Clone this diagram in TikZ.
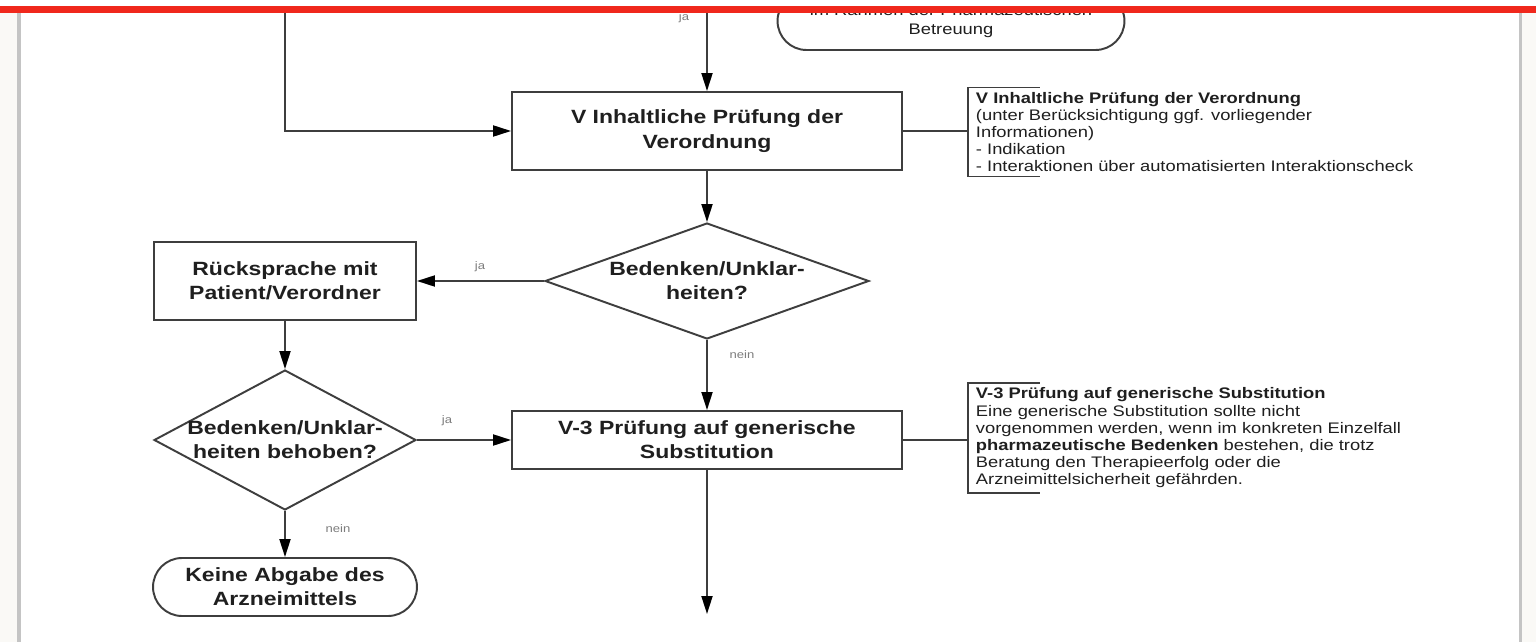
\documentclass[tikz,border=0pt]{standalone}
\usepackage{fontspec}
\setmainfont{Liberation Sans}[FakeStretch=1.2]
\usetikzlibrary{arrows.meta, shapes.geometric, shapes.misc}
\definecolor{linegray}{RGB}{62,62,62}
\definecolor{labelgray}{RGB}{125,125,125}
\definecolor{bordergray}{RGB}{196,196,196}
\definecolor{offwhite}{RGB}{250,249,246}
\definecolor{topred}{RGB}{240,40,28}

\begin{document}
\begin{tikzpicture}[x=0.02cm, y=-0.02cm, line width=1.1pt,
  >={Triangle[length=0.36cm, width=0.22cm, color=black]},
  flow/.style={draw=linegray, text=black!88, align=center, inner sep=0pt, font=\fontsize{10.9}{13.8}\selectfont\bfseries},
  process/.style={flow, rectangle},
  decision/.style={flow, diamond, inner sep=-0.1cm},
  terminal/.style={flow, rounded rectangle},
  note/.style={text=black!88, align=left, anchor=west, inner xsep=0.14cm, inner ysep=0.07cm, font=\fontsize{8.7}{9.8}\selectfont},
  yesno/.style={text=labelgray, inner sep=0pt, font=\fontsize{6.2}{7}\selectfont},
  link/.style={draw=linegray, ->},
  tie/.style={draw=linegray}]
\useasboundingbox (0,0) rectangle (1536,642);
\fill [white] (0,0) rectangle (1536,642);
\fill [offwhite] (0,13) rectangle (17,642);
\fill [offwhite] (1522,13) rectangle (1536,642);
\coordinate (Loop) at (285,13);
\coordinate (Top) at (707,13);
\coordinate (End) at (707,614);
\node at (951,21) [name=betreuung, terminal, minimum width=6.94cm, minimum height=1.16cm, font=\fontsize{8.7}{10.8}\selectfont] {im Rahmen der Pharmazeutischen\\Betreuung};
\node at (707,131) [name=pruefung, process, minimum width=7.8cm, minimum height=1.56cm] {V Inhaltliche Prüfung der\\Verordnung};
\node at (968,132) [name=notepruefung, note] {\textbf{V Inhaltliche Prüfung der Verordnung}\\(unter Berücksichtigung ggf. vorliegender\\Informationen)\\- Indikation\\- Interaktionen über automatisierten Interaktionscheck};
\node at (707,281) [name=unklar, decision, aspect=2.8, minimum width=6.48cm, minimum height=2.32cm] {Bedenken/Unklar-\\heiten?};
\node at (285,281) [name=ruecksprache, process, minimum width=5.24cm, minimum height=1.56cm] {Rücksprache mit\\Patient/Verordner};
\node at (285,440) [name=behoben, decision, aspect=1.87, minimum width=5.24cm, minimum height=2.8cm] {Bedenken/Unklar-\\heiten behoben?};
\node at (707,440) [name=generik, process, minimum width=7.8cm, minimum height=1.16cm] {V-3 Prüfung auf generische\\Substitution};
\node at (968,438) [name=notegenerik, note] {\textbf{V-3 Prüfung auf generische Substitution}\\Eine generische Substitution sollte nicht\\vorgenommen werden, wenn im konkreten Einzelfall\\\textbf{pharmazeutische Bedenken} bestehen, die trotz\\Beratung den Therapieerfolg oder die\\Arzneimittelsicherheit gefährden.};
\node at (285,587) [name=keineabgabe, terminal, minimum width=5.28cm, minimum height=1.16cm] {Keine Abgabe des\\Arzneimittels};
\node at (684,18) [name=jatop, yesno] {ja};
\node at (480,267) [name=jaunklar, yesno] {ja};
\node at (742,355) [name=neinunklar, yesno] {nein};
\node at (447,421) [name=jabehoben, yesno] {ja};
\node at (338,529) [name=neinbehoben, yesno] {nein};
\draw [link] (Top) -- (pruefung.north);
\draw [link] (Loop) |- (pruefung.west);
\draw [link] (pruefung) -- (unklar);
\draw [link] (unklar.west) -- (ruecksprache.east);
\draw [link] (unklar.south) -- (generik.north);
\draw [link] (ruecksprache) -- (behoben);
\draw [link] (behoben.east) -- (generik.west);
\draw [link] (behoben.south) -- (keineabgabe.north);
\draw [link] (generik.south) -- (End);
\draw [tie] (pruefung.east) -- (pruefung.east -| notepruefung.west);
\draw [tie] ([xshift=1.44cm]notepruefung.north west) -- (notepruefung.north west) -- (notepruefung.south west) -- ([xshift=1.44cm]notepruefung.south west);
\draw [tie] (generik.east) -- (generik.east -| notegenerik.west);
\draw [tie] ([xshift=1.44cm]notegenerik.north west) -- (notegenerik.north west) -- (notegenerik.south west) -- ([xshift=1.44cm]notegenerik.south west);
\draw [bordergray, line width=0.08cm] (19,13) -- (19,642);
\draw [bordergray, line width=0.06cm] (1520,13) -- (1520,642);
\fill [white] (0,0) rectangle (1536,6);
\fill [topred] (0,6) rectangle (1536,13);
\end{tikzpicture}
\end{document}
